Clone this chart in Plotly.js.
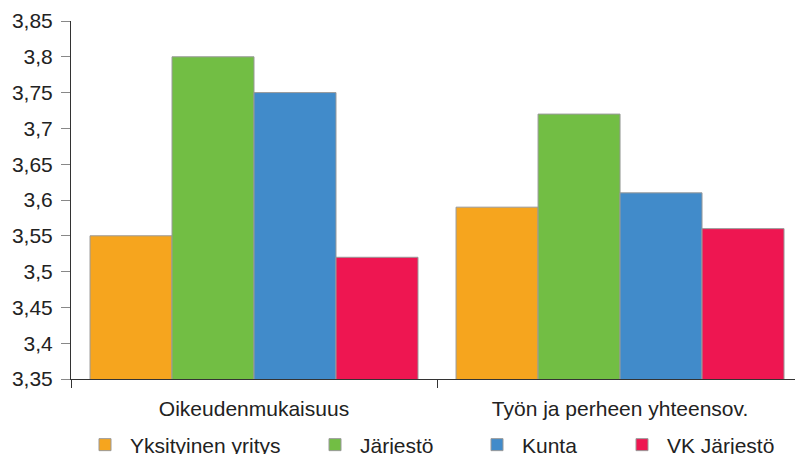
<!DOCTYPE html>
<html>
<head>
<meta charset="utf-8">
<script src="https://cdn.plot.ly/plotly-3.0.1.min.js"></script>
<style>html,body{margin:0;padding:0;overflow:hidden;background:#fff}#chart{width:795px;height:454px}</style>
</head>
<body>
<div id="chart"></div>
<script>
var categories = ['Oikeudenmukaisuus', 'Työn ja perheen yhteensov.'];
var seriesNames = ['Yksityinen yritys', 'Järjestö', 'Kunta', 'VK Järjestö'];
var yksityinen = [3.55, 3.59];
var jarjesto = [3.80, 3.72];
var kunta = [3.75, 3.61];
var vkJarjesto = [3.52, 3.56];
var seriesValues = [yksityinen, jarjesto, kunta, vkJarjesto];
var colors = ['#F6A51E', '#72BE44', '#418BCA', '#EE1651'];
var legendLeft = [80, 310, 472, 617];

var font = {family: 'Liberation Sans, Arial, sans-serif', size: 21, color: '#222'};
var traces = seriesNames.map(function(n, i) {
  return {
    type: 'bar', name: n, x: categories, y: seriesValues[i],
    marker: {color: colors[i], line: {color: '#999', width: 1}},
    legend: i === 0 ? 'legend' : 'legend' + (i + 1),
    hoverinfo: 'y+name'
  };
});
var layout = {
  width: 795, height: 454,
  margin: {l: 71, r: 0, t: 21, b: 75},
  paper_bgcolor: '#fff', plot_bgcolor: '#fff',
  separators: ', ',
  font: font,
  barmode: 'group', bargap: 0.104, bargroupgap: 0,
  xaxis: {
    type: 'category', range: [-0.5, 1.478],
    showline: true, linecolor: '#333', linewidth: 1,
    ticks: 'outside', tickson: 'boundaries', ticklen: 8, tickcolor: '#333',
    showgrid: false, zeroline: false, ticklabelstandoff: 11,
    tickfont: font
  },
  yaxis: {
    range: [3.35, 3.85], tick0: 3.35, dtick: 0.05,
    showline: true, linecolor: '#333', linewidth: 1,
    ticks: 'outside', ticklen: 9, tickcolor: '#888',
    showgrid: false, zeroline: false, ticklabelstandoff: 4,
    tickfont: font
  },
  showlegend: true
};
legendLeft.forEach(function(L, i) {
  var key = i === 0 ? 'legend' : 'legend' + (i + 1);
  layout[key] = {
    xref: 'container', yref: 'container',
    x: L / 795, xanchor: 'left', y: 9 / 454, yanchor: 'middle',
    orientation: 'h', itemwidth: 40, font: font,
    bgcolor: 'rgba(0,0,0,0)', borderwidth: 0
  };
});
Plotly.newPlot('chart', traces, layout, {displayModeBar: false, staticPlot: true});
</script>
</body>
</html>
